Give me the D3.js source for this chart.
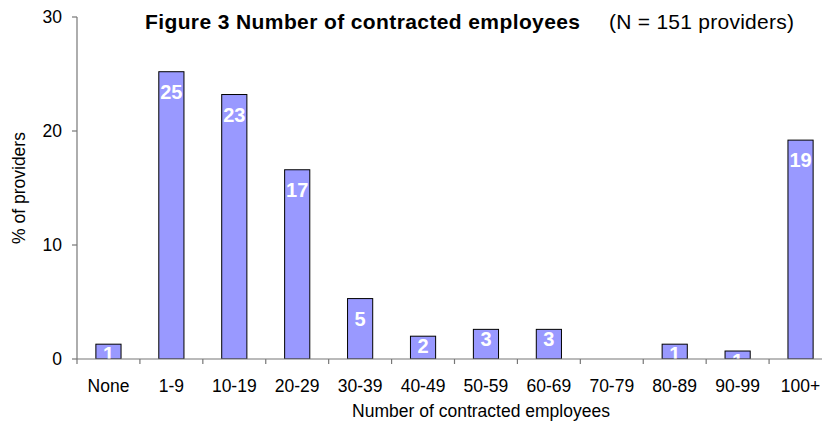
<!DOCTYPE html>
<html>
<head>
<meta charset="utf-8">
<script src="https://cdn.jsdelivr.net/npm/d3@7/dist/d3.min.js"></script>
<style>
  html, body { margin: 0; padding: 0; background: #fff; }
  svg { display: block; font-family: "Liberation Sans", Arial, sans-serif; }
</style>
</head>
<body>
<svg id="chart" width="822" height="423"></svg>
<script>
const categories = ["None", "1-9", "10-19", "20-29", "30-39", "40-49", "50-59", "60-69", "70-79", "80-89", "90-99", "100+"];
const percentValues = [1.3, 25.2, 23.2, 16.6, 5.3, 2.0, 2.6, 2.6, 0, 1.3, 0.7, 19.2];
const yTicks = [0, 10, 20, 30];
const titleBold = "Figure 3 Number of contracted employees";
const titleNote = "(N = 151 providers)";
const xTitle = "Number of contracted employees";
const yTitle = "% of providers";

const svg = d3.select("#chart");
const mLeft = 77, mRight = 832, mTop = 17, mBottom = 359;

const x = d3.scaleBand().domain(categories).range([mLeft, mRight]).paddingInner(0.6).paddingOuter(0.3);
const y = d3.scaleLinear().domain([0, 30]).range([mBottom, mTop]);
const step = x.step();

svg.append("defs").append("clipPath").attr("id", "plotclip")
  .append("rect").attr("x", mLeft).attr("y", mTop - 5).attr("width", mRight - mLeft).attr("height", mBottom - mTop + 5);

const plot = svg.append("g").attr("clip-path", "url(#plotclip)");

const data = categories.map((c, i) => ({ c, v: percentValues[i] }));

plot.selectAll("rect.bar").data(data.filter(d => d.v > 0)).enter().append("rect")
  .attr("class", "bar")
  .attr("x", d => x(d.c))
  .attr("y", d => y(d.v))
  .attr("width", x.bandwidth())
  .attr("height", d => y(0) - y(d.v))
  .attr("fill", "#9999FF")
  .attr("stroke", "#000")
  .attr("stroke-width", 1);

plot.selectAll("text.lab").data(data.filter(d => d.v > 0)).enter().append("text")
  .attr("class", "lab")
  .attr("x", d => x(d.c) + x.bandwidth() / 2)
  .attr("y", d => {
    const h = y(0) - y(d.v);
    return y(d.v) + (h > 40 ? 27 : 17);
  })
  .attr("text-anchor", "middle")
  .attr("font-size", 20)
  .attr("font-weight", "bold")
  .attr("fill", "#fff")
  .text(d => Math.round(d.v));

// Y axis
const axisColor = "#777";
const yAxis = svg.append("g");
yAxis.append("line").attr("x1", mLeft).attr("x2", mLeft).attr("y1", mTop).attr("y2", mBottom)
  .attr("stroke", axisColor).attr("stroke-width", 1.2);
yAxis.selectAll("line.tk").data(yTicks).enter().append("line")
  .attr("x1", mLeft - 5).attr("x2", mLeft)
  .attr("y1", d => y(d)).attr("y2", d => y(d))
  .attr("stroke", axisColor).attr("stroke-width", 1.2);
yAxis.selectAll("text").data(yTicks).enter().append("text")
  .attr("x", 62).attr("y", d => y(d)).attr("dy", "0.35em")
  .attr("text-anchor", "end").attr("font-size", 17.5).attr("fill", "#000")
  .text(d => d);

// X axis
const xAxis = svg.append("g");
xAxis.append("line").attr("x1", mLeft).attr("x2", mRight).attr("y1", mBottom).attr("y2", mBottom)
  .attr("stroke", axisColor).attr("stroke-width", 1.2);
xAxis.selectAll("line.tk").data(categories.concat(["end"])).enter().append("line")
  .attr("x1", (d, i) => mLeft + i * step).attr("x2", (d, i) => mLeft + i * step)
  .attr("y1", mBottom).attr("y2", mBottom + 5)
  .attr("stroke", axisColor).attr("stroke-width", 1.2);
xAxis.selectAll("text").data(categories).enter().append("text")
  .attr("x", d => x(d) + x.bandwidth() / 2).attr("y", 392)
  .attr("text-anchor", "middle").attr("font-size", 17.5).attr("fill", "#000")
  .text(d => d);

// Axis titles
svg.append("text").attr("x", 481).attr("y", 417).attr("text-anchor", "middle")
  .attr("font-size", 17.5).attr("fill", "#000").text(xTitle);
svg.append("text").attr("transform", "translate(25,188) rotate(-90)").attr("text-anchor", "middle")
  .attr("font-size", 17.5).attr("fill", "#000").text(yTitle);

// Title
svg.append("text").attr("x", 145).attr("y", 29).attr("font-size", 21).attr("font-weight", "bold")
  .attr("textLength", 435).attr("lengthAdjust", "spacing")
  .attr("fill", "#000").text(titleBold);
svg.append("text").attr("x", 609).attr("y", 29).attr("font-size", 21)
  .attr("textLength", 185).attr("lengthAdjust", "spacing")
  .attr("fill", "#000").text(titleNote);
</script>
</body>
</html>
